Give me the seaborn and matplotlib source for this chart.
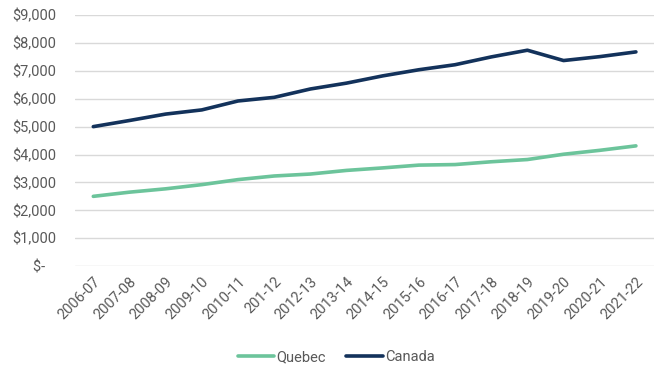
import numpy as np
import pandas as pd
import matplotlib
matplotlib.use("Agg")
import matplotlib.pyplot as plt
import seaborn as sns
from matplotlib.ticker import FuncFormatter

years = ["2006-07", "2007-08", "2008-09", "2009-10", "2010-11", "201-12",
         "2012-13", "2013-14", "2014-15", "2015-16", "2016-17", "2017-18",
         "2018-19", "2019-20", "2020-21", "2021-22"]
quebec = [2500, 2650, 2770, 2920, 3100, 3230, 3300, 3430, 3520, 3620,
          3640, 3740, 3820, 4010, 4150, 4310]
canada = [5000, 5220, 5450, 5600, 5920, 6050, 6350, 6560, 6820, 7040,
          7220, 7500, 7740, 7370, 7510, 7680]

df = pd.DataFrame({
    'year': years * 2,
    'pos': list(range(len(years))) * 2,
    'value': quebec + canada,
    'region': ['Quebec'] * len(years) + ['Canada'] * len(years),
})

sns.set_style("white")
plt.rcParams['font.family'] = ['Roboto', 'DejaVu Sans']

fig = plt.figure(figsize=(6.54, 3.68), dpi=100)
ax = fig.add_axes([0.115, 0.277, 0.885, 0.682])

palette = {'Quebec': '#6cc49b', 'Canada': '#13325b'}
sns.lineplot(data=df, x='pos', y='value', hue='region', palette=palette,
             linewidth=2.6, ax=ax, legend=True)

ax.set_xlim(-0.5, len(years) - 0.5)
ax.set_ylim(0, 9000)
ax.set_yticks(np.arange(0, 9001, 1000))
# accounting style: zero shown as "$-" with trailing padding
ax.yaxis.set_major_formatter(FuncFormatter(lambda v, p: "$-   " if v == 0 else "${:,.0f}".format(v)))
ax.set_xticks(range(len(years)))
ax.set_xticklabels(years, rotation=45, ha='right', rotation_mode='anchor')
ax.tick_params(axis='both', colors='#595959', labelsize=10.5, length=0)
ax.tick_params(axis='y', pad=14)
ax.tick_params(axis='x', pad=6)
ax.grid(axis='y', color='#d9d9d9', linewidth=1)
ax.set_axisbelow(True)
for s in ax.spines.values():
    s.set_visible(False)
ax.set_xlabel('')
ax.set_ylabel('')

leg = ax.legend(loc='center', bbox_to_anchor=(0.451, -0.363), ncol=2,
                frameon=False, fontsize=10.5, handlelength=2.5, handletextpad=0.15,
                columnspacing=1.4)
for t in leg.get_texts():
    t.set_color('#595959')

fig.savefig('out.png', dpi=100)
